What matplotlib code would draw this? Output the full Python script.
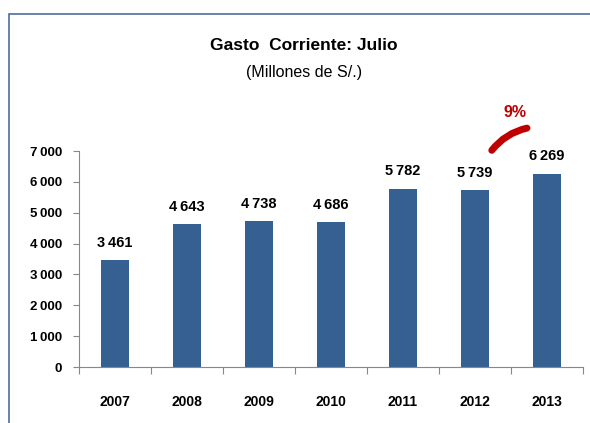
import matplotlib.pyplot as plt
from matplotlib.patches import Rectangle, FancyArrowPatch

years = ["2007", "2008", "2009", "2010", "2011", "2012", "2013"]
gasto = [3461, 4643, 4738, 4686, 5782, 5739, 6269]
yticks = [0, 1000, 2000, 3000, 4000, 5000, 6000, 7000]
growth_label = "9%"


def fmt(v):
    s = f"{v:,}".replace(",", "\u2009")
    return s


plt.rcParams['font.family'] = ['Liberation Sans Narrow', 'Liberation Sans', 'DejaVu Sans']

fig = plt.figure(figsize=(5.9, 4.23), dpi=100)
ax = fig.add_axes([79 / 590, 1 - 367 / 423, 504 / 590, 216 / 423])

x = range(len(years))
ax.bar(x, gasto, width=0.4, color='#376092')
ax.set_xlim(-0.5, len(years) - 0.5)
ax.set_ylim(0, 7000)

for i, v in enumerate(gasto):
    ax.text(i, v + 330, fmt(v), ha='center', va='bottom', fontsize=10.5, fontweight='bold')

ax.set_yticks(yticks)
ax.set_yticklabels([fmt(t) for t in yticks], fontsize=9.5, fontweight='bold')
ax.set_xticks([i - 0.5 for i in range(len(years) + 1)], minor=False)
ax.set_xticklabels([])
ax.set_xticks(list(x), minor=True)
ax.set_xticklabels(years, minor=True, fontsize=10, fontweight='bold')
ax.tick_params(axis='x', which='minor', length=0, pad=20)
ax.tick_params(axis='x', which='major', length=5, color='#888888')
ax.tick_params(axis='y', length=4, color='#888888', pad=8)

for s in ['top', 'right']:
    ax.spines[s].set_visible(False)
ax.spines['left'].set_color('#888888')
ax.spines['bottom'].set_color('#888888')

# growth marker
arc = FancyArrowPatch((5.21, 6950), (5.76, 7760), arrowstyle='-',
                      connectionstyle='arc3,rad=-0.2', color='#c00000',
                      lw=5, capstyle='round', clip_on=False, mutation_scale=1)
ax.add_patch(arc)
ax.text(5.56, 8250, growth_label, ha='center', va='center', color='#c00000',
        fontsize=11.5, fontweight='bold', clip_on=False)

fig.text(304 / 590, 1 - 45 / 423, "Gasto  Corriente: Julio", ha='center', va='center',
         fontsize=12.5, fontweight='bold')
fig.text(304 / 590, 1 - 73 / 423, "(Millones de S/.)", ha='center', va='center', fontsize=11.5)

fig.patches.append(Rectangle((8.5 / 590, -0.1), 1.2, 1.1 - 14 / 423, transform=fig.transFigure,
                             fill=False, edgecolor='#4f6d9b', lw=1.2))

fig.savefig("out.png", dpi=100)
